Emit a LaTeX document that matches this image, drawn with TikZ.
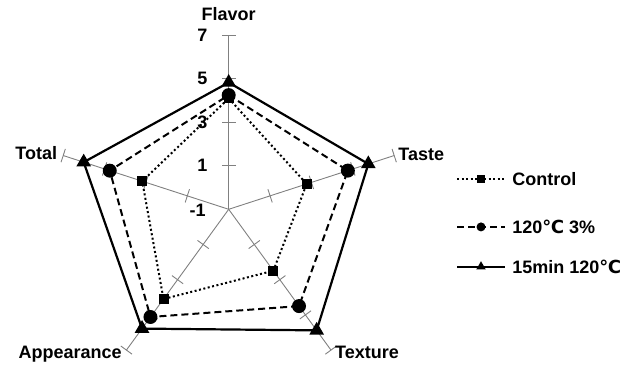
\documentclass[tikz,border=0pt]{standalone}
\usepackage{fontspec}
\setmainfont{Liberation Sans}
\newfontfamily\gradi{DejaVu Sans}
\usetikzlibrary{shapes.geometric}

\tikzset{
  asse/.style={gray, line width=0.9pt},
  etich/.style={font=\bfseries\fontsize{18}{20}\selectfont, inner sep=2pt},
  num/.style={font=\bfseries\fontsize{18}{20}\selectfont, inner sep=0pt, anchor=east},
  controllo/.style={line width=2pt, dash pattern=on 2pt off 2.5pt},
  trattato/.style={line width=2pt, dash pattern=on 7pt off 4pt},
  cotto/.style={line width=2.2pt},
  quadro/.style={fill=black, rectangle, minimum size=10pt, inner sep=0pt},
  tondo/.style={fill=black, circle, minimum size=14pt, inner sep=0pt},
  punta/.style={fill=black, regular polygon, regular polygon sides=3, minimum size=17pt, inner sep=0pt},
}

\begin{document}
\begin{tikzpicture}[x=21.75pt, y=21.75pt]
        \useasboundingbox (-10.515,-7.251) rectangle (18.818,9.623);

        % Assi e tacche
        \foreach \a/\n in {90/fla, 18/tas, -54/tex, -126/app, 162/tot} {
            \draw[asse] (0,0) -- (\a:8) coordinate (\n);
            \foreach \r in {2,4,6,8}
                \draw[asse, shift={(\a:\r)}, rotate=\a] (0,-0.32) -- (0,0.32);
        }

        % Scala
        \node[num] (n7) at (-0.97,8) {7};
        \node[num] (n5) at (-0.97,6) {5};
        \node[num] (n3) at (-0.97,4) {3};
        \node[num] (n1) at (-0.97,2) {1};
        \node[num] (nm1) at (-1.05,-0.06) {-1};

        % Etichette
        \node[etich, above=12pt] (l-fla) at (fla) {Flavor};
        \node[etich, right=2pt, yshift=1.5pt] (l-tas) at (tas) {Taste};
        \node[etich, right=2pt, yshift=-2.5pt] (l-tex) at (tex) {Texture};
        \node[etich, left=2.5pt, yshift=-3.7pt] (l-app) at (app) {Appearance};
        \node[etich, left=4pt, yshift=2.5pt] (l-tot) at (tot) {Total};

        % Control
        \coordinate (cf) at (90:5.1);
        \coordinate (ct) at (18:3.77);
        \coordinate (cx) at (-54:3.49);
        \coordinate (ca) at (-126:5.1);
        \coordinate (co) at (162:4.18);
        \draw[controllo] (cf) -- (ct) -- (cx) -- (ca) -- (co) -- cycle;

        % 120 C 3%
        \coordinate (pf) at (90:5.25);
        \coordinate (pt) at (18:5.76);
        \coordinate (px) at (-54:5.5);
        \coordinate (pa) at (-126:6.12);
        \coordinate (po) at (162:5.75);
        \draw[trattato] (pf) -- (pt) -- (px) -- (pa) -- (po) -- cycle;

        % 15min 120 C
        \coordinate (mf) at (90:5.83);
        \coordinate (mt) at (18:6.75);
        \coordinate (mx) at (-54:6.88);
        \coordinate (ma) at (-126:6.78);
        \coordinate (mo) at (162:7.01);
        \draw[cotto] (mf) -- (mt) -- (mx) -- (ma) -- (mo) -- cycle;

        % Marcatori
        \foreach \p in {cf,ct,cx,ca,co}
            \node[quadro] (\p-m) at (\p) {};
        \foreach \p in {pf,pt,px,pa,po}
            \node[tondo] (\p-m) at (\p) {};
        \foreach \p in {mf,mt,mx,ma,mo}
            \node[punta] (\p-m) at (\p) {};

        % Legenda
        \coordinate (g1a) at (10.5,1.38);
        \coordinate (g1b) at (12.7,1.38);
        \draw[controllo] (g1a) -- (g1b);
        \node[quadro, minimum size=8pt] (g1m) at (11.6,1.38) {};
        \node[etich, right] (g1t) at (12.94,1.38) {Control};

        \coordinate (g2a) at (10.5,-0.81);
        \coordinate (g2b) at (12.7,-0.81);
        \draw[trattato] (g2a) -- (g2b);
        \node[tondo, minimum size=9pt] (g2m) at (11.6,-0.81) {};
        \node[etich, right] (g2t) at (12.94,-0.81) {120{\gradi ℃} 3\%};

        \coordinate (g3a) at (10.5,-2.64);
        \coordinate (g3b) at (12.7,-2.64);
        \draw[cotto] (g3a) -- (g3b);
        \node[punta, minimum size=11pt] (g3m) at (11.6,-2.64) {};
        \node[etich, right] (g3t) at (12.94,-2.64) {15min 120{\gradi ℃}};
\end{tikzpicture}
\end{document}
